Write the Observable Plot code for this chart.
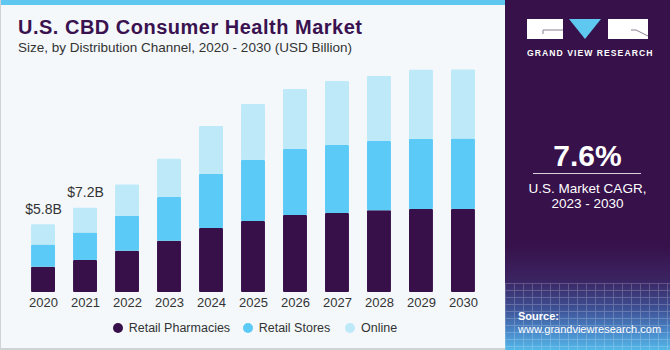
<!DOCTYPE html>
<html>
<head>
<meta charset="utf-8">
<script src="https://cdn.jsdelivr.net/npm/d3@7"></script>
<script src="https://cdn.jsdelivr.net/npm/@observablehq/plot@0.6"></script>
<style>
  html, body { margin: 0; padding: 0; }
  body { width: 670px; height: 350px; position: relative; overflow: hidden; font-family: "Liberation Sans", Arial, sans-serif; background: #fff; }
  #left { position: absolute; left: 0; top: 0; width: 504px; height: 348px; background: #f4f8fb; border-left: 1px solid #cfd3d6; border-bottom: 2px solid #cfd3d6; }
  #strip { position: absolute; left: 0; top: 0; width: 505px; height: 5px; background: #5ec8f0; }
  #title { position: absolute; left: 17px; top: 16px; font-size: 20px; font-weight: bold; letter-spacing: 0.5px; color: #3a1250; white-space: nowrap; }
  #subtitle { position: absolute; left: 17px; top: 40px; font-size: 13.5px; color: #333; white-space: nowrap; }
  #chart { position: absolute; left: -1px; top: 62px; }
  #legend { position: absolute; left: 0; top: 319px; width: 505px; height: 18px; }
  .li { position: absolute; top: 0; font-size: 12.5px; color: #333; white-space: nowrap; line-height: 18px; }
  .dot { position: absolute; width: 10px; height: 10px; border-radius: 50%; top: 4px; }
  #right { position: absolute; left: 505px; top: 0; width: 165px; height: 350px;
    background: linear-gradient(to bottom, #37114a 0%, #37114a 70%, #3b2462 80%, #3d4f93 88%, #4a8acb 95%, #53b8e8 100%); overflow: hidden; }
  #grid { position: absolute; left: 0; top: 283px; width: 165px; height: 67px; opacity: 0.22;
    background-image: repeating-linear-gradient(to right, rgba(255,255,255,0.9) 0 1px, transparent 1px 9px), repeating-linear-gradient(to bottom, rgba(255,255,255,0.9) 0 1px, transparent 1px 7px); }
  #gvr { position: absolute; left: 22px; top: 48px; width: 121px; font-size: 8.6px; font-weight: bold; letter-spacing: 1.05px; color: #fff; white-space: nowrap; }
  #cagr { position: absolute; left: 0; width: 165px; top: 139px; text-align: center; font-size: 30px; font-weight: bold; color: #fff; }
  #rule { position: absolute; left: 28px; top: 173px; width: 108px; height: 1px; background: #d8d0dc; }
  #cagrtxt { position: absolute; left: 0; width: 165px; top: 181px; text-align: center; font-size: 13.5px; line-height: 15px; color: #fff; }
  #src1 { position: absolute; left: 13px; top: 310px; font-size: 11px; font-weight: bold; color: #fff; }
  #src2 { position: absolute; left: 13px; top: 323px; font-size: 11px; color: #fff; white-space: nowrap; }
</style>
</head>
<body>
<div id="left">
  <div id="strip"></div>
  <div id="title">U.S. CBD Consumer Health Market</div>
  <div id="subtitle">Size, by Distribution Channel, 2020 - 2030 (USD Billion)</div>
  <div id="chart"></div>
  <div id="legend"></div>
</div>
<div id="right">
  <div id="grid"></div>
  <svg style="position:absolute;left:22px;top:19px" width="121" height="21" viewBox="0 0 121 21">
    <rect x="0" y="0" width="36" height="20" fill="#fff"/>
    <path d="M16 11 H36 M16 11 V15" stroke="#8a7f93" stroke-width="1" fill="none"/>
    <polygon points="42,0 74,0 58,20" fill="#5ec8f0"/>
    <rect x="81" y="0" width="40" height="20" fill="#fff"/>
    <path d="M104 11 H109 L121 17" stroke="#8a7f93" stroke-width="1" fill="none"/>
  </svg>
  <div id="gvr">GRAND VIEW RESEARCH</div>
  <div id="cagr">7.6%</div>
  <div id="rule"></div>
  <div id="cagrtxt">U.S. Market CAGR,<br>2023 - 2030</div>
  <div id="src1">Source:</div>
  <div id="src2">www.grandviewresearch.com</div>
</div>
<script>
const years = ["2020","2021","2022","2023","2024","2025","2026","2027","2028","2029","2030"];
const seriesNames = ["Retail Pharmacies", "Retail Stores", "Online"];
const seriesColors = ["#37104a", "#5ccaf6", "#bde9f9"];
const retailPharmacies = [2.16, 2.73, 3.53, 4.38, 5.47, 6.07, 6.58, 6.75, 6.98, 7.09, 7.10];
const retailStores     = [1.90, 2.36, 2.99, 3.74, 4.64, 5.21, 5.64, 5.81, 5.92, 6.01, 6.02];
const online           = [1.74, 2.11, 2.68, 3.27, 4.08, 4.79, 5.13, 5.47, 5.56, 5.90, 5.91];
const labelYears = ["2020", "2021"];
const labelTexts = ["$5.8B", "$7.2B"];

const seriesValues = [retailPharmacies, retailStores, online];
const rows = [];
seriesNames.forEach((s, si) => years.forEach((y, i) => rows.push({year: y, series: s, value: seriesValues[si][i]})));
const totals = years.map((y, i) => ({year: y, total: retailPharmacies[i] + retailStores[i] + online[i]}));
const labels = labelYears.map((y, i) => ({year: y, text: labelTexts[i], total: totals[years.indexOf(y)].total}));

const chart = Plot.plot({
  width: 505,
  height: 258,
  marginLeft: 13,
  marginRight: 12,
  marginTop: 5.4,
  marginBottom: 28,
  style: {fontFamily: "'Liberation Sans', Arial, sans-serif", background: "transparent", color: "#333", overflow: "visible"},
  x: {type: "band", domain: years, padding: 0.43, round: false, axis: null, label: null},
  y: {domain: [0, 19.2], axis: null},
  color: {domain: seriesNames, range: seriesColors},
  marks: [
    Plot.barY(rows, {x: "year", y: "value", fill: "series", rx: 1}),
    Plot.axisX({tickSize: 0, tickPadding: 5, fontSize: 13, fill: "#333"}),
    Plot.text(labels, {x: "year", y: "total", text: "text", dy: -11, lineAnchor: "bottom", fontSize: 14, fill: "#333"})
  ]
});
document.getElementById("chart").appendChild(chart);

const legend = document.getElementById("legend");
const legendX = [111.7, 241.7, 344];
seriesNames.forEach((s, i) => {
  const d = document.createElement("div");
  d.className = "dot";
  d.style.left = legendX[i] + "px";
  d.style.background = seriesColors[i];
  legend.appendChild(d);
  const t = document.createElement("div");
  t.className = "li";
  t.style.left = (legendX[i] + 16) + "px";
  t.textContent = s;
  legend.appendChild(t);
});
</script>
</body>
</html>
